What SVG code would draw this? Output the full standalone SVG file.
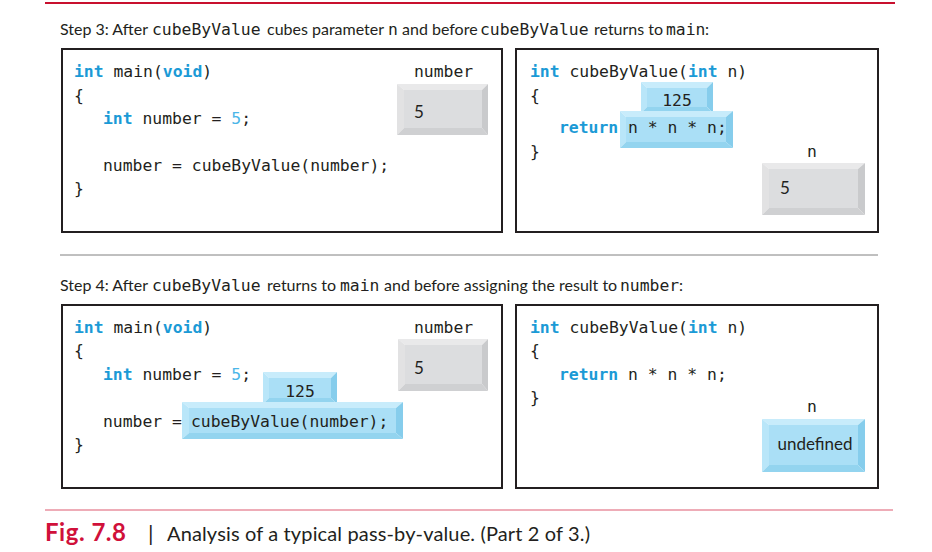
<svg xmlns="http://www.w3.org/2000/svg" width="932" height="552" viewBox="0 0 932 552">
<style>
.code{font-family:"DejaVu Sans Mono","Liberation Mono",monospace;font-size:16.4px;fill:#231f20}
.kw{fill:#1b9ad6;font-weight:bold}
.lit{fill:#4bb6e8}
.sans{font-family:Lato,"Open Sans","Liberation Sans",sans-serif;font-size:17px;fill:#231f20}
.head{font-family:Lato,"Open Sans","Liberation Sans",sans-serif;font-size:16px;fill:#231f20}
.panel{fill:#fff;stroke:#231f20;stroke-width:2}
.gt{fill:#e9e9ea}.gl{fill:#e2e2e3}.gr{fill:#c9cacc}.gb{fill:#cfd0d2}.gf{fill:#dcdddf}
.bt{fill:#c8ecfb}.bl{fill:#b9e6f9}.br{fill:#86cdec}.bb{fill:#93d4ef}.bf{fill:#aadff6}
</style>
<rect width="932" height="552" fill="#fff"/>
<line x1="45" y1="3" x2="895" y2="3" stroke="#c8102e" stroke-width="2"/>
<line x1="60" y1="255" x2="878" y2="255" stroke="#808080" stroke-width="1"/>
<line x1="45" y1="510" x2="893" y2="510" stroke="#e8909f" stroke-width="1.5"/>

<!-- Step 3 heading -->
<text y="35" class="head"><tspan x="60">Step 3: After</tspan><tspan x="152" class="code">cubeByValue</tspan><tspan x="267">cubes parameter</tspan><tspan x="388" class="code">n</tspan><tspan x="402">and before</tspan><tspan x="480" class="code">cubeByValue</tspan><tspan x="594">returns to</tspan><tspan x="666" class="code">main</tspan><tspan x="705">:</tspan></text>

<!-- Step 3 left panel -->
<g id="s3-main">
<rect class="panel" x="62" y="49" width="440" height="183"/>
<text class="code" x="74" y="77"><tspan class="kw">int</tspan> main(<tspan class="kw">void</tspan>)</text>
<text class="code" x="74" y="101">{</text>
<text class="code" x="103" y="124"><tspan class="kw">int</tspan> number = <tspan class="lit">5</tspan>;</text>
<text class="code" x="103" y="171">number = cubeByValue(number);</text>
<text class="code" x="74" y="194">}</text>
</g>
<g id="s3-number">
<text class="code" x="414" y="77">number</text>
<polygon class="gt" points="397,84 488,84 482,90 404,90"/>
<polygon class="gl" points="397,84 404,90 404,128 397,135"/>
<polygon class="gr" points="488,84 488,135 482,128 482,90"/>
<polygon class="gb" points="397,135 404,128 482,128 488,135"/>
<rect class="gf" x="404" y="90" width="78" height="38"/>
<text class="sans" x="414" y="118">5</text>
</g>

<!-- Step 3 right panel -->
<g id="s3-cube">
<rect class="panel" x="516" y="49" width="362" height="183"/>
<text class="code" x="530" y="77"><tspan class="kw">int</tspan> cubeByValue(<tspan class="kw">int</tspan> n)</text>
<text class="code" x="530" y="101">{</text>
<text class="code" x="530" y="157">}</text>
<polygon class="bt" points="641,82 713,82 707,88 647,88"/>
<polygon class="bl" points="641,82 647,88 647,107 641,113"/>
<polygon class="br" points="713,82 713,113 707,107 707,88"/>
<polygon class="bb" points="641,113 647,107 707,107 713,113"/>
<rect class="bf" x="647" y="88" width="60" height="19"/>
<text class="code" x="677" y="106" text-anchor="middle">125</text>
<polygon class="bt" points="620,111 733,111 726,117 626,117"/>
<polygon class="bl" points="620,111 626,117 626,142 620,148"/>
<polygon class="br" points="733,111 733,148 726,142 726,117"/>
<polygon class="bb" points="620,148 626,142 726,142 733,148"/>
<rect class="bf" x="626" y="117" width="100" height="25"/>
<text class="code" x="559" y="133"><tspan class="kw">return</tspan> n * n * n;</text>
</g>
<g id="s3-n">
<text class="code" x="812" y="157" text-anchor="middle">n</text>
<polygon class="gt" points="762,163 865,163 858,169 769,169"/>
<polygon class="gl" points="762,163 769,169 769,208 762,215"/>
<polygon class="gr" points="865,163 865,215 858,208 858,169"/>
<polygon class="gb" points="762,215 769,208 858,208 865,215"/>
<rect class="gf" x="769" y="169" width="89" height="39"/>
<text class="sans" x="780" y="194">5</text>
</g>

<!-- Step 4 heading -->
<text y="291" class="head"><tspan x="60">Step 4: After</tspan><tspan x="152" class="code">cubeByValue</tspan><tspan x="267">returns to</tspan><tspan x="340" class="code">main</tspan><tspan x="384">and before assigning the result to</tspan><tspan x="620" class="code">number</tspan><tspan x="679">:</tspan></text>

<!-- Step 4 left panel -->
<g id="s4-main">
<rect class="panel" x="62" y="305" width="440" height="183"/>
<text class="code" x="74" y="333"><tspan class="kw">int</tspan> main(<tspan class="kw">void</tspan>)</text>
<text class="code" x="74" y="356">{</text>
<text class="code" x="103" y="380"><tspan class="kw">int</tspan> number = <tspan class="lit">5</tspan>;</text>
<text class="code" x="103" y="427">number =</text>
<text class="code" x="74" y="450">}</text>
<polygon class="bt" points="263,372 337,372 331,378 269,378"/>
<polygon class="bl" points="263,372 269,378 269,398 263,404"/>
<polygon class="br" points="337,372 337,404 331,398 331,378"/>
<polygon class="bb" points="263,404 269,398 331,398 337,404"/>
<rect class="bf" x="269" y="378" width="62" height="20"/>
<text class="code" x="300" y="397" text-anchor="middle">125</text>
<polygon class="bt" points="182,402 403,402 396,408 189,408"/>
<polygon class="bl" points="182,402 189,408 189,433 182,439"/>
<polygon class="br" points="403,402 403,439 396,433 396,408"/>
<polygon class="bb" points="182,439 189,433 396,433 403,439"/>
<rect class="bf" x="189" y="408" width="207" height="25"/>
<text class="code" x="191" y="427">cubeByValue(number);</text>
</g>
<g id="s4-number">
<text class="code" x="414" y="333">number</text>
<polygon class="gt" points="398,339 488,339 482,345 405,345"/>
<polygon class="gl" points="398,339 405,345 405,384 398,391"/>
<polygon class="gr" points="488,339 488,391 482,384 482,345"/>
<polygon class="gb" points="398,391 405,384 482,384 488,391"/>
<rect class="gf" x="405" y="345" width="77" height="39"/>
<text class="sans" x="414" y="374">5</text>
</g>

<!-- Step 4 right panel -->
<g id="s4-cube">
<rect class="panel" x="516" y="305" width="362" height="183"/>
<text class="code" x="530" y="333"><tspan class="kw">int</tspan> cubeByValue(<tspan class="kw">int</tspan> n)</text>
<text class="code" x="530" y="356">{</text>
<text class="code" x="559" y="380"><tspan class="kw">return</tspan> n * n * n;</text>
<text class="code" x="530" y="403">}</text>
</g>
<g id="s4-n">
<text class="code" x="812" y="412" text-anchor="middle">n</text>
<polygon class="bt" points="762,419 865,419 858,425 769,425"/>
<polygon class="bl" points="762,419 769,425 769,465 762,472"/>
<polygon class="br" points="865,419 865,472 858,465 858,425"/>
<polygon class="bb" points="762,472 769,465 858,465 865,472"/>
<rect class="bf" x="769" y="425" width="89" height="40"/>
<text class="sans" x="815" y="450" text-anchor="middle">undefined</text>
</g>

<!-- Caption -->
<text x="45" y="541" font-family="Lato,'Open Sans','Liberation Sans',sans-serif" font-size="24" font-weight="bold" fill="#d0103a" textLength="81">Fig. 7.8</text>
<text x="148" y="541" font-family="Lato,'Open Sans','Liberation Sans',sans-serif" font-size="22" fill="#231f20">|</text>
<text x="167" y="541" font-family="Lato,'Open Sans','Liberation Sans',sans-serif" font-size="20" fill="#231f20" textLength="423">Analysis of a typical pass-by-value. (Part 2 of 3.)</text>
</svg>
